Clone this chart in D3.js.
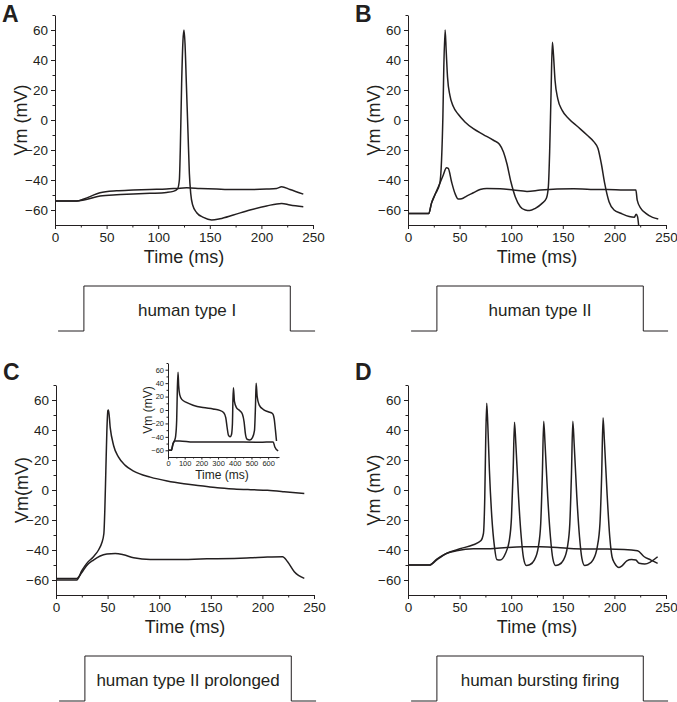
<!DOCTYPE html>
<html>
<head>
<meta charset="utf-8">
<script src="https://cdn.jsdelivr.net/npm/d3@7"></script>
<style>
  body { margin: 0; background: #fff; }
  svg text { font-family: "Liberation Sans", Arial, sans-serif; fill: #231f20; }
  .axis path, .axis line { stroke: #231f20; stroke-width: 1; }
  .trace { fill: none; stroke: #231f20; stroke-width: 1.5; stroke-linejoin: round; }
</style>
</head>
<body>
<svg id="fig" width="677" height="702"></svg>
<script>
// tick values
const xTicks = [0, 50, 100, 150, 200, 250];
const xMinor = [25, 75, 125, 175, 225];
const yTicks = [-60, -40, -20, 0, 20, 40, 60];
const yMinor = [-50, -30, -10, 10, 30, 50, 70];
const insetXTicks = [0, 100, 200, 300, 400, 500, 600];
const insetXMinor = [50, 150, 250, 350, 450, 550, 650];

// stimulus step (ms): baseline start, step on, step off, baseline end
const stimTimes = [3, 28, 228, 252];
const stimLabels = ["human type I", "human type II", "human type II prolonged", "human bursting firing"];

// voltage traces, [time ms, Vm mV]
const traceA1 = [[0,-54],[21,-54],[28,-52.7],[43.6,-48.5],[59.7,-47.2],[75.8,-46.7],[92,-46.3],[108,-46],[117.9,-45.6],
  [127.6,-45.2],[140.5,-45.6],[156.6,-46],[172.7,-46.3],[188.9,-46.3],[205,-46],[214.8,-45.6],[219.6,-44.5],[227.7,-46.3],[240.6,-49.4]];
const traceA2 = [[0,-54],[21,-54],[28,-53.4],[43.6,-50.7],[59.7,-49.8],[75.8,-49.4],[92,-48.9],[108,-48.3],[114.6,-47.6],
  [118.8,-45.8],[120.5,-40],[121.4,-20],[122.7,24],[124,52.9],[125,60],[126,50.7],[127.3,24],[128.9,-9],[130.2,-35.6],
  [131.5,-48.9],[133.4,-56.7],[137.3,-61.8],[143.8,-64.9],[151.8,-66.6],[159.9,-65.8],[172.8,-63.3],[188.9,-60],
  [205,-57.3],[219.6,-55.6],[227.7,-56.7],[240.6,-57.8]];

const traceB1 = [[0,-62.4],[20.1,-62.4],[22.7,-55.6],[26,-50],[30.8,-42.3],[34.1,-36.8],[37.3,-31.9],[39,-32.3],[42.2,-41.2],
  [45.5,-48.9],[48.7,-52.7],[52,-52.5],[56.8,-50.7],[63.3,-48.5],[69.8,-46.3],[76.3,-45.6],[89.3,-45.8],[102.3,-46.7],
  [115.3,-47.6],[128.2,-46.7],[144.5,-46],[160.7,-45.8],[177,-46.3],[193.2,-46.3],[209.4,-46.7],[220.8,-46.7],
  [222.1,-53.4],[225.6,-58.9],[230.5,-62.2],[237,-64.9],[242.5,-66]];
const traceB2 = [[0,-62.4],[20.1,-62.4],[22.7,-55.6],[26,-50],[30.8,-42.3],[32.5,-26.8],[33.8,2],[34.7,35.2],[36,60],
  [37,46.3],[38.3,28.6],[40.6,16.4],[43.8,9.1],[48.7,3.8],[55.2,-1.3],[63.3,-5.8],[73,-9.7],[82.8,-13.5],[88.6,-16.2],
  [92.5,-21.3],[95.8,-29],[99.7,-41.2],[103.9,-51.1],[108.8,-57.8],[113.6,-60],[117.9,-60.4],[123.4,-58.9],[129.9,-55.6],
  [134.1,-52.2],[136,-44.5],[137.3,-20.1],[138.6,17.5],[139.9,51.8],[140.9,44.1],[142.5,26.3],[145.1,14.2],[149.4,6.4],
  [155.8,0.9],[164,-4.2],[173.7,-10.2],[180.2,-14.6],[184.1,-19],[187.3,-29],[190.6,-42.3],[194.8,-54.5],[199.7,-60],
  [206.2,-62.2],[214.3,-64.4],[219.2,-64.9],[221.1,-62.9],[222.4,-64.4],[224,-74]];

const traceC1 = [[0,-59],[20.1,-59],[25,-55],[29.8,-50.3],[36.3,-46.7],[42.8,-44],[49.3,-42.7],[57.4,-42.3],[65.5,-43.2],
  [75.2,-45.2],[91.4,-46.3],[107.7,-46.3],[123.9,-46.3],[140,-46],[156.3,-45.8],[172.5,-45.6],[188.7,-45.2],[204.9,-44.7],
  [219.5,-44.5],[224.4,-47.8],[230.9,-54.5],[240.6,-58.9]];
const traceC2 = [[0,-60],[20.1,-60],[25,-53.8],[29.8,-48.9],[36.3,-44.5],[41.2,-40],[44.4,-35.2],[46.4,-29],[47.3,-13.5],
  [48.3,13],[49.3,39.6],[50.3,52.9],[50.9,53.4],[52.5,41.8],[55.8,29.7],[60.6,21.9],[67.1,16.4],[75.2,12.6],[91.4,8.6],
  [107.7,6],[123.9,4.2],[140,2.9],[156.3,1.5],[172.5,0.7],[188.7,0.2],[204.9,-0.2],[221.1,-1.1],[240.6,-2.4]];

// inset of C: long (650 ms) recording
const insetC1 = [[0,-60],[20,-60],[30,-51],[40,-46],[70,-46],[150,-47.5],[350,-47.5],[550,-48],[630,-47.5],[640,-55],[660,-61]];
const insetC2 = [[0,-60],[20,-60],[30,-50],[40,-45],[46,-38.5],[52,-15.4],[56,30.8],[60,56.4],[64,35.9],[70,23],[84,15.4],
  [110,11.3],[150,7.2],[210,3.6],[270,1.5],[310,-0.5],[334,-4.1],[346,-11.3],[354,-25.7],[362,-37.5],[372,-40],[380,-37],
  [386,-20.5],[389,15.4],[392,33.3],[398,12.8],[410,3.6],[430,-1],[446,-6.2],[456,-18],[464,-35.9],[474,-43.6],[490,-44.7],
  [506,-41],[518,-30.8],[524,5.1],[528,40],[534,20.5],[546,7.7],[570,1],[600,-2.6],[626,-5.2],[636,-12.8],[644,-30.8],[650,-46.2]];

const traceD1 = [[0,-50],[21.1,-50],[27.6,-46.7],[37.3,-42.3],[47.1,-40.5],[63.3,-39.2],[79.5,-39.2],[95.8,-38.3],[112,-37.9],
  [128.2,-37.9],[144.5,-38.3],[160.7,-39.2],[177,-39.4],[193.2,-39.4],[209.4,-39.6],[222.4,-40.5],[228.9,-44.5],
  [235.4,-46.7],[241.9,-48.9]];
const traceD2 = [[0,-50],[21.1,-50],[27.6,-46.3],[37.3,-42.3],[50.3,-39.2],[63.3,-36.5],[70.5,-33.9],[73.1,-29],[74.4,-4.6],
  [75.3,33],[76.3,57.8],[77.3,44.1],[78.9,13],[81.2,-17.9],[83.8,-37.9],[86,-46.3],[89.3,-46.7],[94.2,-42.7],[98.1,-33.9],
  [100.3,-17.9],[101.9,13],[103.2,45.2],[104.5,30.8],[107.1,-4.6],[109.7,-31.2],[112,-45.6],[114.6,-50.3],[117.9,-49.8],
  [122.4,-46.7],[126.3,-37.9],[128.6,-22.4],[130.2,10.9],[131.5,45.8],[132.8,30.8],[135.4,-4.6],[138,-31.2],[140.3,-45.6],
  [142.9,-50.3],[146.1,-49.8],[150.6,-46.7],[154.5,-37.9],[156.8,-22.4],[158.4,10.9],[159.7,45.8],[161,30.8],[163.6,-4.6],
  [166.2,-31.2],[168.5,-45.6],[171.1,-50.3],[174.4,-49.8],[179.2,-46.7],[183.4,-37.9],[186,-22.4],[187.7,10.9],[189,48.1],
  [190.3,33],[192.9,-2.4],[195.5,-31.2],[197.7,-44.5],[200.3,-48.9],[204.5,-51.6],[207.8,-50.3],[212,-47.2],[216.6,-46.3],
  [220.8,-46.7],[224,-48.9],[229.5,-49.4],[235.4,-47.8],[241.9,-44.5]];

const panels = [
  {id: "A", left: 55,  top: 15,  ylab: "Vm (mV)", traces: [traceA1, traceA2], stim: stimLabels[0]},
  {id: "B", left: 408, top: 15,  ylab: "Vm (mV)", traces: [traceB1, traceB2], stim: stimLabels[1]},
  {id: "C", left: 56,  top: 385, ylab: "Vm(mV)",  traces: [traceC1, traceC2], stim: stimLabels[2], inset: true},
  {id: "D", left: 408, top: 385, ylab: "Vm (mV)", traces: [traceD1, traceD2], stim: stimLabels[3]}
];

const svg = d3.select("#fig");
const W = 258, H = 210;

function drawAxes(g, x, y, o) {
  g.append("g").attr("class", "axis").attr("transform", `translate(0,${o.h})`)
    .call(d3.axisBottom(x).tickValues(o.xt).tickSize(o.major).tickSizeOuter(0).tickPadding(o.pad))
    .call(a => a.selectAll("text").attr("font-size", o.fs).attr("font-family", null));
  g.append("g").attr("class", "axis").attr("transform", `translate(0,${o.h})`)
    .call(d3.axisBottom(x).tickValues(o.xm).tickSize(o.minor).tickSizeOuter(0).tickFormat(""))
    .call(a => a.select(".domain").remove());
  g.append("g").attr("class", "axis")
    .call(d3.axisLeft(y).tickValues(yTicks).tickSize(o.major).tickSizeOuter(0).tickPadding(o.pad))
    .call(a => a.selectAll("text").attr("font-size", o.fs).attr("font-family", null));
  g.append("g").attr("class", "axis")
    .call(d3.axisLeft(y).tickValues(yMinor).tickSize(o.minor).tickSizeOuter(0).tickFormat(""))
    .call(a => a.select(".domain").remove());
  g.selectAll(".axis text").attr("fill", "#231f20");
}

panels.forEach((p, i) => {
  const g = svg.append("g").attr("transform", `translate(${p.left},${p.top})`);
  const x = d3.scaleLinear().domain([0, 250]).range([0, W]);
  const y = d3.scaleLinear().domain([-70, 70]).range([H, 0]);

  g.append("clipPath").attr("id", "clip" + i)
    .append("rect").attr("x", 0).attr("y", 0).attr("width", W).attr("height", H);

  const line = d3.line().x(d => x(d[0])).y(d => y(d[1])).curve(d3.curveMonotoneX);
  g.append("g").attr("clip-path", `url(#clip${i})`)
    .selectAll("path").data(p.traces).join("path")
    .attr("class", "trace").attr("d", line);

  drawAxes(g, x, y, {h: H, xt: xTicks, xm: xMinor, major: 4, minor: 2.5, pad: 3, fs: 13.5});

  g.append("text").attr("x", W / 2).attr("y", H + 38).attr("text-anchor", "middle")
    .attr("font-size", 18).text("Time (ms)");
  g.append("text").attr("transform", `translate(-28,${H / 2}) rotate(-90)`)
    .attr("text-anchor", "middle").attr("font-size", 18).text(p.ylab);

  // panel letter
  svg.append("text").attr("x", p.left - 53).attr("y", p.id === "A" || p.id === "B" ? p.top + 7 : p.top - 5)
    .attr("font-size", 23).attr("font-weight", "bold").text(p.id);

  // stimulus protocol
  const sTop = H + 61, sBase = H + 106;
  const stimPts = [[stimTimes[0], sBase], [stimTimes[1], sBase], [stimTimes[1], sTop],
                   [stimTimes[2], sTop], [stimTimes[2], sBase], [stimTimes[3], sBase]];
  g.append("path").attr("fill", "none").attr("stroke", "#231f20").attr("stroke-width", 1)
    .attr("d", d3.line().x(d => x(d[0])).y(d => d[1])(stimPts));
  g.append("text").attr("x", x((stimTimes[1] + stimTimes[2]) / 2)).attr("y", sTop + 30)
    .attr("text-anchor", "middle").attr("font-size", 17).text(p.stim);

  if (p.inset) {
    const ig = svg.append("g").attr("transform", "translate(168,363)");
    const iw = 111, ih = 94;
    const ix = d3.scaleLinear().domain([0, 665]).range([0, iw]);
    const iy = d3.scaleLinear().domain([-70, 70]).range([ih, 0]);
    const iline = d3.line().x(d => ix(d[0])).y(d => iy(d[1])).curve(d3.curveMonotoneX);
    ig.selectAll("path.trace").data([insetC1, insetC2]).join("path")
      .attr("class", "trace").attr("stroke-width", 1.1).attr("d", iline);
    drawAxes(ig, ix, iy, {h: ih, xt: insetXTicks, xm: insetXMinor, major: 2.5, minor: 1.5, pad: 1.5, fs: 7.5});
    ig.append("text").attr("x", 54).attr("y", ih + 22).attr("text-anchor", "middle")
      .attr("font-size", 12).text("Time (ms)");
    ig.append("text").attr("transform", `translate(-16,${ih / 2}) rotate(-90)`)
      .attr("text-anchor", "middle").attr("font-size", 12).text("Vm (mV)");
  }
});
</script>
</body>
</html>
